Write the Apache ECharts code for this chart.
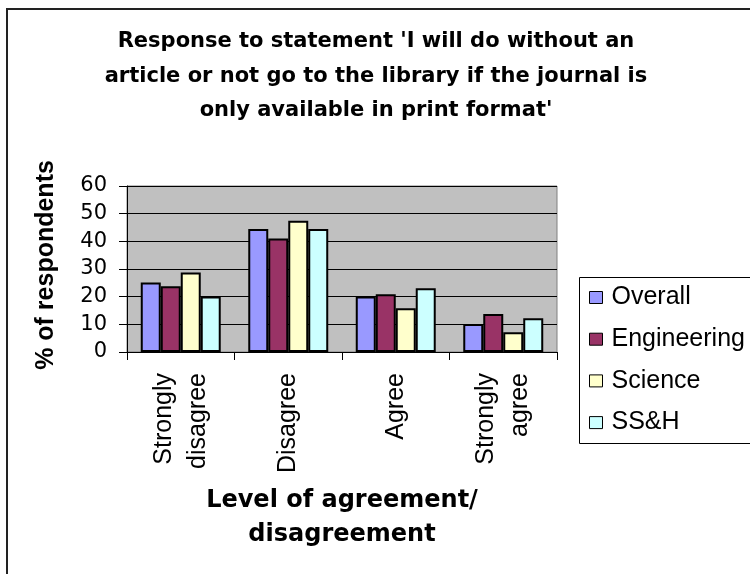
<!DOCTYPE html>
<html>
<head>
<meta charset="utf-8">
<style>
  html, body { margin: 0; padding: 0; background: #ffffff; }
  #chart { width: 750px; height: 574px; }
</style>
<script src="https://cdn.jsdelivr.net/npm/echarts@6/dist/echarts.min.js"></script>
</head>
<body>
<div id="chart"></div>
<script>
// Survey response levels (x categories)
const categories = ['Strongly\ndisagree', 'Disagree', 'Agree', 'Strongly\nagree'];

// % of respondents per faculty group
const overall     = [25.1, 44.5, 20.1, 10.1];
const engineering = [23.8, 41.0, 20.9, 13.7];
const science     = [28.7, 47.4, 15.8, 7.1];
const ssh         = [20.1, 44.5, 23.0, 12.2];

const seriesNames = ['Overall', 'Engineering', 'Science', 'SS&H'];
const yTicks = [0, 10, 20, 30, 40, 50, 60];

const colors = ['#9999FF', '#993366', '#FFFFCC', '#CCFFFF'];
const seriesData = [overall, engineering, science, ssh];

const chart = echarts.init(document.getElementById('chart'), null, { renderer: 'canvas' });

const barSeries = seriesNames.map((name, i) => ({
  name: name,
  type: 'bar',
  data: seriesData[i],
  barGap: '0%',
  barCategoryGap: '25.6%',
  itemStyle: { color: colors[i], borderColor: '#000', borderWidth: 2 },
  emphasis: { disabled: true }
}));

chart.setOption({
  animation: false,
  backgroundColor: '#ffffff',
  title: {
    text: "Response to statement 'I will do without an\narticle or not go to the library if the journal is\nonly available in print format'",
    left: 376,
    top: 24.5,
    padding: 0,
    textAlign: 'center',
    textStyle: {
      fontFamily: 'DejaVu Sans',
      fontWeight: 'bold',
      fontSize: 21,
      lineHeight: 34.5,
      color: '#000'
    }
  },
  legend: {
    orient: 'vertical',
    left: 579,
    top: 277,
    padding: [8, 5, 8, 10],
    itemGap: 16.7,
    itemWidth: 13,
    itemHeight: 12,
    borderWidth: 0,
    icon: 'rect',
    itemStyle: { borderColor: '#000', borderWidth: 1 },
    textStyle: {
      fontFamily: 'Liberation Sans',
      fontSize: 25,
      color: '#000',
      padding: [0, 0, 0, 4]
    },
    data: seriesNames
  },
  grid: {
    left: 127,
    right: 193,
    top: 186,
    bottom: 222,
    show: true,
    backgroundColor: '#C0C0C0',
    borderColor: '#808080',
    borderWidth: 1
  },
  xAxis: {
    type: 'category',
    data: categories,
    axisLine: { lineStyle: { color: '#000', width: 1 } },
    axisTick: { show: true, length: 8, lineStyle: { color: '#000' } },
    axisLabel: {
      rotate: 90,
      margin: 21,
      fontFamily: 'Liberation Sans',
      fontSize: 25,
      lineHeight: 34,
      color: '#000'
    }
  },
  yAxis: {
    type: 'value',
    min: yTicks[0],
    max: yTicks[yTicks.length - 1],
    interval: 10,
    axisLine: { show: true, lineStyle: { color: '#000', width: 1 } },
    axisTick: { show: true, length: 8, lineStyle: { color: '#000' } },
    splitLine: { show: true, lineStyle: { color: '#000', width: 1 } },
    axisLabel: {
      margin: 20,
      fontFamily: 'DejaVu Sans',
      fontSize: 21,
      color: '#000'
    }
  },
  graphic: [
    {
      type: 'line',
      shape: { x1: 7, y1: 8, x2: 7, y2: 574 },
      style: { stroke: '#222', lineWidth: 2 },
      silent: true
    },
    {
      type: 'line',
      shape: { x1: 6, y1: 9, x2: 750, y2: 9 },
      style: { stroke: '#222', lineWidth: 2 },
      silent: true
    },
    {
      // legend frame, running past the right edge of the canvas
      type: 'rect',
      shape: { x: 579.5, y: 277.5, width: 220, height: 166 },
      style: { fill: 'none', stroke: '#000', lineWidth: 1 },
      z: -1,
      silent: true
    },
    {
      type: 'text',
      x: 46.5,
      y: 265,
      rotation: Math.PI / 2,
      style: {
        text: '% of respondents',
        fontFamily: 'Liberation Sans',
        fontWeight: 'bold',
        fontSize: 25,
        fill: '#000',
        align: 'center',
        verticalAlign: 'middle'
      },
      silent: true
    },
    {
      type: 'text',
      x: 342,
      y: 484,
      style: {
        text: 'Level of agreement/\ndisagreement',
        fontFamily: 'DejaVu Sans',
        fontWeight: 'bold',
        fontSize: 24,
        lineHeight: 34,
        fill: '#000',
        align: 'center',
        verticalAlign: 'top'
      },
      silent: true
    }
  ],
  series: barSeries
});
</script>
</body>
</html>
